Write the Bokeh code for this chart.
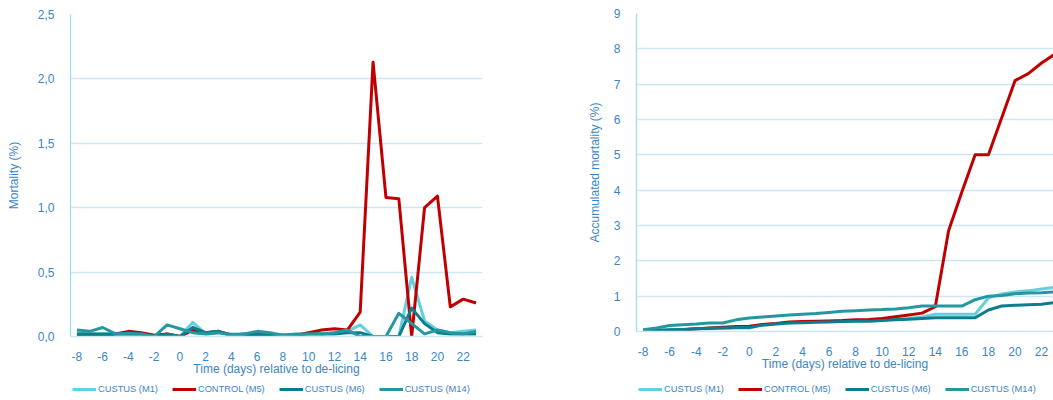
from bokeh.plotting import figure
from bokeh.models import Legend, LegendItem, FixedTicker, Range1d
from bokeh.layouts import row, column
from bokeh.embed import file_html
from bokeh.resources import INLINE

# ---------------- data ----------------
days = list(range(-8, 24))
x_ticks = list(range(-8, 23, 2))
x_tick_labels = ["-8", "-6", "-4", "-2", "0", "2", "4", "6", "8", "10", "12", "14", "16", "18", "20", "22"]

series_names = ["CUSTUS (M1)", "CONTROL (M5)", "CUSTUS (M6)", "CUSTUS (M14)"]
series_colors = ["#62d0de", "#c00000", "#0b7d8c", "#2597a1"]

# daily mortality (%)
m1_daily = [0.03, 0.02, 0.02, 0.02, 0.01, 0.01, 0.0, 0.01, 0.0, 0.11, 0.02, 0.03, 0.02, 0.02, 0.02, 0.01,
            0.01, 0.0, 0.03, 0.02, 0.03, 0.04, 0.09, 0.0, 0.0, 0.0, 0.46, 0.12, 0.05, 0.03, 0.04, 0.05]
control_daily = [0.01, 0.01, 0.01, 0.02, 0.04, 0.03, 0.01, 0.02, 0.0, 0.05, 0.03, 0.04, 0.01, 0.01, 0.01, 0.01,
                 0.01, 0.01, 0.03, 0.05, 0.06, 0.05, 0.19, 2.13, 1.08, 1.07, 0.0, 1.0, 1.09, 0.23, 0.29, 0.26]
m6_daily = [0.02, 0.02, 0.02, 0.02, 0.02, 0.02, 0.0, 0.02, 0.0, 0.07, 0.03, 0.04, 0.01, 0.02, 0.02, 0.02,
            0.01, 0.01, 0.02, 0.02, 0.02, 0.03, 0.03, 0.0, 0.0, 0.0, 0.22, 0.10, 0.03, 0.02, 0.02, 0.02]
m14_daily = [0.05, 0.04, 0.07, 0.02, 0.025, 0.02, 0.0, 0.09, 0.06, 0.03, 0.02, 0.03, 0.01, 0.02, 0.04, 0.03,
             0.01, 0.02, 0.02, 0.02, 0.03, 0.05, 0.0, 0.0, 0.0, 0.18, 0.10, 0.02, 0.05, 0.03, 0.02, 0.04]

# accumulated mortality (%)
m1_cum = [0.03, 0.04, 0.05, 0.06, 0.07, 0.08, 0.09, 0.10, 0.10, 0.20, 0.22, 0.25, 0.27, 0.28, 0.29, 0.30,
          0.31, 0.31, 0.33, 0.35, 0.37, 0.41, 0.49, 0.49, 0.49, 0.49, 0.95, 1.06, 1.12, 1.15, 1.20, 1.25]
control_cum = [0.0, 0.02, 0.03, 0.05, 0.08, 0.10, 0.12, 0.14, 0.15, 0.20, 0.23, 0.27, 0.28, 0.29, 0.30, 0.31,
               0.33, 0.34, 0.37, 0.42, 0.47, 0.52, 0.70, 2.85, 3.95, 5.0, 5.0, 6.05, 7.10, 7.30, 7.60, 7.85]
m6_cum = [0.02, 0.03, 0.05, 0.06, 0.08, 0.09, 0.10, 0.11, 0.11, 0.18, 0.21, 0.24, 0.25, 0.26, 0.27, 0.28,
          0.29, 0.29, 0.31, 0.33, 0.35, 0.37, 0.39, 0.39, 0.39, 0.39, 0.61, 0.72, 0.74, 0.76, 0.77, 0.82]
m14_cum = [0.05, 0.10, 0.17, 0.19, 0.21, 0.24, 0.24, 0.33, 0.38, 0.41, 0.44, 0.47, 0.49, 0.51, 0.54, 0.57,
           0.59, 0.61, 0.62, 0.64, 0.67, 0.72, 0.72, 0.72, 0.72, 0.90, 1.00, 1.02, 1.07, 1.09, 1.10, 1.12]

left_yticks = [0, 0.5, 1.0, 1.5, 2.0, 2.5]
left_ylabels = ["0,0", "0,5", "1,0", "1,5", "2,0", "2,5"]
right_yticks = [0, 1, 2, 3, 4, 5, 6, 7, 8, 9]
right_ylabels = ["0", "1", "2", "3", "4", "5", "6", "7", "8", "9"]

x_title = "Time (days) relative to de-licing"
left_ytitle = "Mortality (%)"
right_ytitle = "Accumulated mortality (%)"

# ---------------- styling ----------------
TEXT = "#3a86c6"
FONT = "Liberation Sans"
GRID = "#cde6f5"
YAXIS = "#a6e1ec"


def make_chart(values, yticks, ylabels, y_end, x_end, ytitle, fw, fh, bl, br, bt, ytitle_standoff):
    p = figure(frame_width=fw, frame_height=fh, output_backend="svg", toolbar_location=None,
               x_range=Range1d(-8.5, x_end), y_range=Range1d(0, y_end),
               min_border_left=bl, min_border_right=br, min_border_top=bt, min_border_bottom=0)
    p.outline_line_color = None
    for col, vals in zip(series_colors, values):
        p.line(days, vals, line_color=col, line_width=3, line_join="round")

    xa = p.xaxis[0]
    xa.ticker = FixedTicker(ticks=x_ticks)
    xa.major_label_overrides = {t: l for t, l in zip(x_ticks, x_tick_labels)}
    xa.axis_line_color = GRID
    xa.axis_line_width = 1.5
    xa.major_tick_line_color = None
    xa.minor_tick_line_color = None
    xa.major_label_standoff = 9
    xa.major_label_text_font = FONT
    xa.major_label_text_font_size = "12px"
    xa.major_label_text_color = TEXT
    xa.axis_label = x_title
    xa.axis_label_text_font = FONT
    xa.axis_label_text_font_size = "12px"
    xa.axis_label_text_font_style = "normal"
    xa.axis_label_text_color = TEXT
    xa.axis_label_standoff = -2

    ya = p.yaxis[0]
    ya.ticker = FixedTicker(ticks=yticks)
    ya.major_label_overrides = {t: l for t, l in zip(yticks, ylabels)}
    ya.axis_line_color = YAXIS
    ya.axis_line_width = 1.5
    ya.major_tick_line_color = None
    ya.minor_tick_line_color = None
    ya.major_label_standoff = 10
    ya.major_label_text_font = FONT
    ya.major_label_text_font_size = "12px"
    ya.major_label_text_color = TEXT
    ya.axis_label = ytitle
    ya.axis_label_text_font = FONT
    ya.axis_label_text_font_size = "12px"
    ya.axis_label_text_font_style = "normal"
    ya.axis_label_text_color = TEXT
    ya.axis_label_standoff = ytitle_standoff

    p.xgrid.grid_line_color = None
    p.ygrid.grid_line_color = GRID
    p.ygrid.grid_line_width = 1.5
    return p


def make_legend(w, h, x_off, y_off):
    lf = figure(width=w, height=h, output_backend="svg", toolbar_location=None,
                x_range=Range1d(0, 1), y_range=Range1d(0, 1),
                x_axis_location=None, y_axis_location=None,
                min_border_left=0, min_border_right=0, min_border_top=0, min_border_bottom=0)
    lf.outline_line_color = None
    lf.xgrid.grid_line_color = None
    lf.ygrid.grid_line_color = None
    items = []
    for name, col in zip(series_names, series_colors):
        # legend proxy, drawn outside the visible range
        r = lf.line([5, 6], [5, 6], line_color=col, line_width=3)
        items.append(LegendItem(label=name, renderers=[r]))
    leg = Legend(items=items, orientation="horizontal", location=(x_off, y_off),
                 glyph_width=24, glyph_height=10, label_standoff=2, spacing=14,
                 padding=0, margin=0, border_line_color=None, background_fill_alpha=0,
                 label_text_font=FONT, label_text_font_size="9.3px", label_text_color=TEXT,
                 label_height=10)
    lf.add_layout(leg)
    return lf


left = make_chart([m1_daily, control_daily, m6_daily, m14_daily], left_yticks, left_ylabels,
                  2.5, 23.5, left_ytitle, 412, 322, 70, 46, 14, 14)
right = make_chart([m1_cum, control_cum, m6_cum, m14_cum], right_yticks, right_ylabels,
                   9, 22.9, right_ytitle, 417, 318, 108, 0, 13, 9)

left_leg = make_legend(528, 22, 2, 6)
right_leg = make_legend(525, 27, 2, 6)

layout = row(column(left, left_leg), column(right, right_leg))
open("out.html", "w").write(file_html(layout, INLINE))
